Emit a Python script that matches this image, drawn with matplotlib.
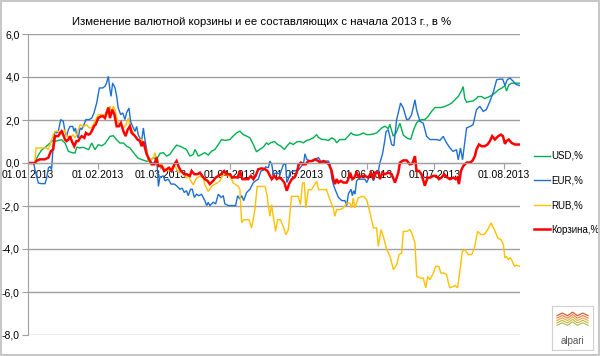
import numpy as np
import pandas as pd
import matplotlib
matplotlib.use("Agg")
import matplotlib.pyplot as plt
from matplotlib.ticker import FuncFormatter
from matplotlib.patches import Rectangle

# days since 01.01.2013 and % change
usd_days = [0, 3, 4.5, 6, 8, 9.5, 11, 12, 13.5, 15, 16.5, 18, 20, 21, 21.7, 23, 24.6, 27, 28.4, 29.8,
            31.3, 32.8, 34.3, 36.5, 38, 39.5, 41, 42.5, 44, 45.4, 47.7, 49, 50.6, 52.9, 54.3, 55.8, 57.3,
            58.8, 60.3, 61.8, 63.2, 64.7, 66.2, 67.7, 69.2, 70.6, 72.1, 73.6, 74.4, 75.9, 77.3, 78.8, 80.3,
            81.8, 83.3, 84.8, 86.2, 87.7, 90, 91.4, 92.9, 94.4, 95.9, 97.4, 98.9, 100.4, 101.8, 103.3, 104.8,
            106.3, 107.1, 108.1, 109.8, 111.2, 112.7, 114.2, 115.3, 116.7, 118.2, 119.7, 121.2, 122.7, 124.2,
            125.6, 127.1, 128.6, 129.3, 130.8, 132.3, 133.8, 135.3, 136.7, 137.5, 138.9, 141.2, 142.7, 143.9,
            144.9, 146.4, 147.9, 149.4, 150.9, 152.4, 153.9, 155.4, 157.6, 159, 160.5, 161.2, 162.7, 164,
            165.7, 167.2, 169, 170.5, 172, 173.1, 173.8, 175.3, 176.8, 178.3, 179.8, 181.3, 184.2, 185.7,
            187.2, 188.7, 190.2, 191.7, 192.9, 193.9, 194.6, 195.4, 196.9, 198.3, 199.8, 200.5, 202.1, 203.5,
            205, 206.5, 208, 209.5, 211, 212.5, 213.2, 214.2, 215.4, 219.1]
usd_vals = [0, 0, 0.35, 0.6, 0.75, 0.9, 1.05, 1.0, 1.05, 1.08, 0.93, 0.54, 0.47, 0.47, 0.74, 0.7, 0.73, 0.62,
            0.93, 0.62, 0.85, 0.8, 0.9, 1.24, 1.27, 1.08, 0.93, 0.93, 0.78, 0.7, 0.39, 0.23, 0.16, 0.08, 0.1,
            0.25, 0.16, 0.45, 0.48, 0.32, 0.4, 0.63, 0.83, 0.78, 0.7, 0.63, 0.32, 0.4, 0.63, 0.32, 0.4, 0.48,
            0.37, 0.55, 0.63, 0.86, 1.09, 1.05, 1.09, 1.25, 1.4, 1.48, 1.32, 1.25, 1.17, 0.86, 0.52, 0.63,
            0.74, 0.94, 0.86, 0.94, 1.0, 0.86, 0.78, 0.63, 0.78, 0.94, 0.86, 0.98, 1.0, 0.94, 1.05, 1.09,
            1.17, 1.32, 1.2, 1.1, 1.09, 1.05, 1.17, 1.09, 0.94, 1.09, 1.09, 1.25, 1.4, 1.32, 1.29, 1.32, 1.4,
            1.32, 1.32, 1.35, 1.4, 1.63, 1.71, 1.6, 1.8, 1.25, 1.4, 1.85, 1.3, 1.15, 1.1, 1.6, 1.86, 1.94,
            2.02, 2.02, 2.17, 2.4, 2.58, 2.58, 2.63, 2.7, 2.78, 2.94, 3.09, 3.32, 3.55, 3.0, 2.83, 2.86, 2.89,
            3.0, 3.09, 3.09, 3.0, 3.06, 3.14, 3.25, 3.4, 3.48, 3.6, 3.35, 3.63, 3.71, 3.71]

eur_days = [0, 2.5, 3.1, 4.6, 6, 7.6, 8.3, 9.1, 9.8, 10.5, 11.3, 12, 12.8, 13.5, 14.6, 15.7, 16.5, 17.2, 18,
            18.7, 19.9, 20.5, 21.1, 21.7, 22.4, 23.2, 23.9, 24.6, 25.8, 27.3, 28.4, 29.4, 30.6, 31.8, 33.3,
            34.3, 35, 35.8, 36.5, 37, 37.7, 38.8, 39.5, 40.2, 41.3, 42.2, 43.2, 43.9, 45, 45.7, 46.6, 47.7,
            48.4, 49.1, 50.6, 51.4, 52.1, 52.9, 53.6, 55.1, 56.6, 57.3, 58.1, 58.8, 60.3, 61, 62.5, 63.7,
            65.2, 66.2, 67.7, 68.7, 69.6, 70.6, 71.4, 72.4, 73.2, 74.1, 75.1, 76.2, 77.3, 78.8, 79.6, 80.3,
            81, 82.5, 83.6, 84.8, 86, 87, 87.7, 89.2, 91, 92.5, 93.4, 94.4, 95.2, 96.1, 97.4, 98.9, 100.4,
            101.4, 102.6, 103.8, 104.8, 105.9, 107.1, 107.8, 108.6, 109.3, 110.8, 112.3, 113.8, 114.8, 115.3,
            116, 116.7, 118.2, 120.4, 121.9, 122.7, 123.4, 124.2, 125.6, 127.1, 127.9, 129.4, 130.8, 132.3,
            133.8, 134.6, 135.3, 136, 136.8, 138.3, 139.8, 141.2, 142, 142.7, 143.9, 144.5, 145.1, 145.7,
            146.4, 147.2, 148.7, 150.1, 150.9, 151.6, 152.8, 153.9, 155, 156.1, 156.8, 157.9, 158.8, 159.5,
            160.5, 162, 163, 164.2, 166, 167.2, 168.7, 169.8, 170.9, 172.4, 173.1, 174.6, 176.1, 177.6,
            179.1, 182, 183.5, 185, 186.5, 188, 189.4, 190.9, 191.7, 192.7, 193.6, 194.5, 195.4, 196.9,
            198.3, 199.8, 201.3, 202.8, 204.2, 205.8, 207.2, 208.8, 210.2, 211.5, 212.5, 213.5, 214.7,
            216.2, 217.5, 219.1]
eur_vals = [0, 0, -0.31, -0.93, -0.96, -0.96, -0.7, -0.23, -0.16, -0.31, 0.93, 1.47, 1.4, 1.47, 2.02, 1.94,
            1.47, 1.24, 1.55, 1.7, 1.7, 1.47, 1.63, 1.32, 1.16, 1.63, 1.55, 1.7, 2.02, 2.02, 2.09, 2.33, 2.79,
            3.49, 3.49, 3.57, 3.72, 4.03, 3.41, 3.1, 3.72, 3.49, 3.1, 2.56, 2.25, 2.33, 2.02, 2.33, 2.56, 1.94,
            1.7, 1.47, 1.7, 1.32, 1.0, 1.63, 1.09, 0.62, 0.16, 0.0, 0.0, 0.31, -1.09, -0.65, -0.6, -0.83,
            -0.75, -0.98, -0.98, -1.06, -1.22, -1.17, -1.37, -1.29, -1.52, -1.22, -1.22, -1.6, -1.45, -1.52,
            -1.45, -1.75, -1.98, -1.83, -1.98, -1.83, -1.9, -1.45, -1.6, -1.52, -1.9, -1.98, -1.98, -1.98,
            -1.52, -1.68, -1.52, -1.75, -1.37, -1.22, -0.91, -0.83, -0.75, -0.37, -0.34, -0.18, -0.22, 0.09,
            -0.06, -0.52, -0.45, -0.52, -0.06, -0.06, -0.91, -0.75, -0.45, -0.37, -0.34, -0.14, -0.06, 0.43,
            0.17, 0.09, 0.09, 0.17, 0.25, 0.02, 0.09, 0.09, -0.06, -0.68, -0.98, -1.22, -1.6, -1.75, -1.75,
            -1.98, -1.45, -1.22, -1.52, -1.29, -1.45, -0.83, -0.75, -0.75, -0.75, -0.91, -0.75, -0.45, -0.83,
            -0.52, -0.37, 0.02, 0.4, 0.94, 1.45, 1.55, 0.86, 0.8, 2.0, 2.79, 2.56, 2.01, 2.05, 2.25, 2.94,
            2.48, 1.94, 1.85, 1.24, 1.09, 1.09, 1.05, 1.24, 0.93, 0.7, 0.54, 0.62, 0.15, 0.7, 0.15, 0.9,
            1.63, 1.7, 1.78, 2.48, 2.64, 2.4, 2.48, 2.87, 3.26, 3.87, 3.9, 3.9, 3.6, 3.87, 3.95, 3.8, 3.65,
            3.6]

rub_days = [0, 3, 3.6, 8.3, 9, 9.8, 11.3, 12, 13.5, 15, 16.5, 17.2, 18.7, 20.2, 20.9, 21.7, 23.2, 24.6,
            26.1, 27.3, 28.4, 29.8, 31.3, 34.3, 35.3, 36.5, 37.2, 38, 38.8, 39.5, 40.2, 41, 42.5, 43.7,
            44.7, 45.4, 46.6, 47.7, 49.1, 50.6, 51.4, 52.9, 53.6, 55.1, 55.8, 56.6, 57.3, 58, 59.5, 61, 62.5,
            64, 65.5, 67, 68.5, 69.9, 70.7, 71.4, 72.1, 73.6, 75.1, 76.6, 78.1, 78.8, 80.3, 81.8, 83, 85.5,
            86.5, 87.7, 90, 91.5, 93.7, 94.4, 95.2, 96, 97.4, 98.5, 99.6, 101.1, 102.1, 103.3, 105.6, 106.6,
            107.1, 107.8, 108.5, 109.6, 110.3, 111.2, 112.5, 113.7, 114.9, 116, 117.4, 118.9, 120.4, 121.4,
            122.3, 123.1, 123.8, 124.9, 126.3, 128.6, 129.5, 131.5, 133, 134.5, 136, 136.7, 137.5, 139,
            140.5, 142, 143.3, 144.2, 144.9, 145.6, 147.1, 148.7, 149.5, 150.9, 152.4, 153.9, 155.3, 156.1,
            157.3, 158.3, 159.8, 161.3, 162.8, 164.3, 165.3, 166.5, 167.2, 168.7, 170.2, 171.2, 172.4,
            173.2, 174.7, 176.1, 177.2, 178.1, 179.1, 180.6, 181.6, 183, 184, 185.3, 186.5, 187.3, 188,
            189.5, 190.4, 191.4, 192.5, 193.5, 194.7, 196.2, 197.7, 198.9, 200.3, 201.8, 203.3, 204.8,
            206.3, 207.8, 209.3, 210.8, 211.8, 212.5, 213.2, 214, 214.8, 215.8, 216.7, 217.5, 219.2]
rub_vals = [0, 0, 0.7, 0.7, 0.62, 0.85, 1.32, 1.47, 1.47, 1.32, 1.55, 1.24, 1.16, 1.32, 1.16, 1.32, 1.78,
            1.7, 1.78, 1.63, 1.63, 1.94, 2.25, 2.25, 2.48, 2.64, 2.33, 2.64, 2.48, 2.09, 1.86, 1.78, 1.63,
            1.78, 2.09, 1.7, 1.47, 1.24, 1.09, 1.09, 0.85, 0.62, 0.08, 0.16, 0.23, 0.48, 0.17, -0.06, -0.06,
            -0.29, -0.37, -0.22, -0.14, -0.45, -0.37, -0.6, -0.7, -0.52, -0.75, -1.01, -0.7, -0.62, -0.7,
            -1.01, -1.32, -1.09, -1.0, -0.85, -0.6, -0.54, -0.62, -0.93, -1.09, -1.22, -2.78, -2.64, -2.64,
            -2.64, -3.02, -2.17, -1.09, -1.09, -1.09, -1.55, -2.02, -2.48, -1.94, -2.71, -3.18, -2.64, -2.64,
            -2.95, -3.33, -3.1, -1.55, -1.55, -1.55, -1.94, -0.93, -0.93, -2.09, -1.24, -1.24, -0.85, -1.24,
            -1.24, -1.24, -1.71, -2.09, -2.48, -2.17, -2.17, -2.09, -1.86, -1.86, -2.09, -1.63, -2.09, -1.63,
            -1.55, -1.55, -1.71, -2.33, -3.02, -3.02, -3.88, -3.1, -3.41, -4.03, -4.34, -4.96, -4.73, -4.26,
            -4.19, -3.18, -3.18, -3.1, -3.33, -3.72, -5.27, -5.35, -5.35, -5.81, -5.27, -5.43, -5.12, -4.81,
            -4.81, -5.12, -5.12, -5.19, -5.58, -5.81, -5.74, -5.7, -5.81, -4.96, -4.11, -4.03, -4.26, -4.26,
            -3.95, -3.18, -3.33, -3.33, -3.1, -2.79, -3.1, -3.49, -3.57, -3.8, -4.42, -4.35, -4.5, -4.4,
            -4.57, -4.81, -4.75, -4.81]

bsk_days = [0, 3.1, 3.8, 5.3, 7.5, 9.1, 10.2, 11.2, 12, 13.5, 14.3, 15, 15.7, 16.5, 17.2, 18, 18.7, 19.5,
            20.6, 21.6, 22.4, 23.2, 23.9, 25.1, 25.8, 26.9, 27.6, 28.4, 29.4, 30.1, 31.3, 32.5, 33.5, 34.3,
            35, 35.8, 36.5, 37.6, 38.5, 39.5, 40.5, 41.4, 42.5, 43.5, 44.4, 45.4, 46.2, 47.7, 48.8, 49.9,
            50.6, 51.4, 52.1, 52.9, 53.6, 55.1, 56.3, 57.3, 58, 59.5, 60.7, 61.7, 62.8, 64, 65.2, 66.2, 67,
            68.1, 69.6, 70.6, 72.1, 72.9, 74.1, 75.6, 76.6, 77.6, 78.8, 80, 81, 82.5, 83.6, 84.8, 86, 87.4,
            88.5, 90, 91, 92.2, 93.4, 94.4, 95.5, 96.6, 98.1, 99.3, 100.4, 101.4, 102.6, 104.1, 105.6, 106.7,
            107.8, 108.6, 109.8, 110.8, 111.8, 113, 114.2, 115.3, 116.3, 117.5, 118.6, 119.7, 120.7, 121.6,
            122.7, 123.7, 124.9, 126.4, 127.9, 129.4, 130.1, 131.6, 133, 134.1, 135.3, 136, 136.8, 137.5,
            138.3, 139.4, 140.5, 142, 142.7, 143.5, 144.5, 145.4, 146.4, 147.5, 148.7, 150.1, 151.6, 152.8,
            153.9, 154.6, 156.1, 156.8, 157.9, 159, 160.5, 162, 163.5, 165, 165.7, 167.2, 168.7, 170.1,
            171.2, 172.4, 173.1, 174.2, 175.3, 176.8, 178, 179.2, 180.5, 181.8, 183.1, 184.2, 185.4, 186.9,
            188, 189.5, 190.5, 191.3, 192, 192.9, 193.9, 195.4, 196.9, 198, 199.1, 199.8, 200.9, 202.1,
            203.5, 204.7, 205.8, 206.8, 208, 209.5, 210.7, 211.6, 212.5, 213.2, 214.2, 215.4, 216.9, 219.1]
bsk_vals = [0, 0, 0.1, 0.17, 0.17, 0.25, 0.55, 0.63, 1.25, 1.25, 1.4, 1.48, 1.32, 1.09, 1.02, 1.09, 1.25,
            1.02, 0.78, 1.02, 1.02, 1.17, 1.25, 1.17, 1.4, 1.32, 1.35, 1.48, 1.71, 1.78, 2.09, 2.17, 2.17,
            2.09, 2.32, 2.58, 2.09, 2.48, 2.25, 1.71, 1.71, 1.86, 1.48, 1.25, 1.55, 1.71, 1.4, 1.25, 1.09,
            1.02, 0.78, 1.0, 0.71, 0.4, 0.25, -0.06, -0.06, 0.25, -0.14, -0.14, -0.37, -0.3, -0.22, -0.37,
            -0.06, 0.09, -0.14, -0.37, -0.52, -0.52, -0.6, -0.37, -0.52, -0.52, -0.45, -0.6, -0.75, -0.83,
            -0.98, -0.83, -0.68, -0.6, -0.52, -0.37, -0.52, -0.52, -0.68, -0.66, -0.68, -0.37, -0.75, -0.75,
            -0.75, -0.6, -0.75, -0.6, -0.29, -0.25, -0.29, -0.37, -0.6, -0.75, -0.6, -0.75, -0.68, -0.75,
            -0.91, -1.29, -0.98, -0.75, -0.68, -0.45, -0.06, 0.02, -0.06, -0.06, 0.09, 0.09, 0.17, 0.09,
            0.02, 0.09, 0.02, -0.06, -0.37, -0.75, -0.98, -0.75, -0.91, -0.83, -0.91, -0.91, -0.75, -0.45,
            -0.75, -0.68, -0.45, -0.68, -0.6, -0.6, -0.68, -0.45, -0.75, -0.45, -0.45, -0.75, -0.45, -0.52,
            -0.45, -0.52, -0.91, -0.45, 0.02, 0.12, 0.12, -0.06, -0.03, 0.32, -0.37, -0.37, -0.52, -1.06,
            -0.68, -0.68, -0.6, -0.6, -0.75, -0.68, -0.52, -0.68, -0.75, -0.68, -0.75, -0.68, -0.98, -0.37,
            -0.14, 0.02, 0.02, 0.1, 0.32, 0.63, 0.86, 0.78, 0.78, 0.86, 1.02, 1.25, 1.09, 1.25, 1.32, 1.25,
            0.89, 1.02, 1.09, 0.94, 0.86, 0.86]

series_names = ["USD,%", "EUR,%", "RUB,%", "Корзина,%"]
series_colors = ["#00B050", "#1F6FCF", "#FFC000", "#FF0000"]
title = "Изменение валютной корзины и ее составляющих с начала 2013 г., в %"

start = pd.Timestamp("2013-01-01")
month_starts = pd.date_range("2013-01-01", "2013-08-01", freq="MS")
tick_days = [(d - start).days for d in month_starts]
tick_labels = [d.strftime("%d.%m.%Y") for d in month_starts]

plt.rcParams["font.family"] = ["Liberation Sans", "DejaVu Sans"]

fig = plt.figure(figsize=(6.0, 3.56), dpi=100)
ax = fig.add_axes([28 / 600, 21 / 356, 492 / 600, 301 / 356])

data = [(usd_days, usd_vals), (eur_days, eur_vals), (rub_days, rub_vals), (bsk_days, bsk_vals)]
for (d, v), name, col in zip(data, series_names, series_colors):
    lw = 1.8 if name.startswith("Корзина") else 1.0
    ax.plot(d, v, color=col, lw=lw, label=name, solid_joinstyle="miter")

ax.set_xlim(0, 219.2)
ax.set_ylim(-8, 6)
ax.set_yticks(np.arange(-8, 7, 2))
ax.yaxis.set_major_formatter(FuncFormatter(lambda v, _: f"{v:.1f}".replace(".", ",")))
ax.grid(axis="y", color="#a0a0a0", lw=1.0)
ax.set_axisbelow(True)
ax.set_xticks(tick_days)
ax.set_xticklabels(tick_labels)

for s in ["top", "right"]:
    ax.spines[s].set_visible(False)
ax.spines["left"].set_color("#a0a0a0")
ax.spines["bottom"].set_color("#a0a0a0")
ax.spines["bottom"].set_position(("data", 0))
ax.tick_params(axis="y", length=4, color="#a0a0a0", labelsize=7.5, pad=2)
ax.tick_params(axis="x", length=4, color="#a0a0a0", labelsize=7.5, pad=1)

fig.text(262 / 600, 1 - 22 / 356, title, ha="center", va="center", fontsize=8.2)

ax.legend(loc="upper left", bbox_to_anchor=(534 / 600, 1 - 151 / 356), bbox_transform=fig.transFigure,
          frameon=False, fontsize=7, handlelength=1.6, handletextpad=0.15, labelspacing=1.5,
          borderpad=0, borderaxespad=0)

# outer frame
fig.add_artist(Rectangle((0.002, 0.003), 0.996, 0.994, transform=fig.transFigure, fill=False,
                         edgecolor="#c8c8c8", lw=1.5))

# alpari logo box
lg = fig.add_axes([552 / 600, 1 - 350 / 356, 41 / 600, 44 / 356])
lg.set_xlim(0, 1)
lg.set_ylim(0, 1)
lg.set_xticks([])
lg.set_yticks([])
for s in lg.spines.values():
    s.set_color("#d0d0d0")
zx = [0.12, 0.25, 0.38, 0.5, 0.62, 0.75, 0.88]
zy = [0.0, 0.06, 0.0, 0.08, 0.0, 0.06, 0.0]
for i, c in enumerate(["#d9482b", "#ee7a2a", "#f2a33a", "#c7b43a", "#9cc14a"]):
    lg.plot(zx, [0.78 - 0.055 * i + y for y in zy], color=c, lw=0.8)
lg.text(0.5, 0.2, "alpari", ha="center", va="center", fontsize=7, color="#555555")

fig.savefig("out.png", dpi=100)
